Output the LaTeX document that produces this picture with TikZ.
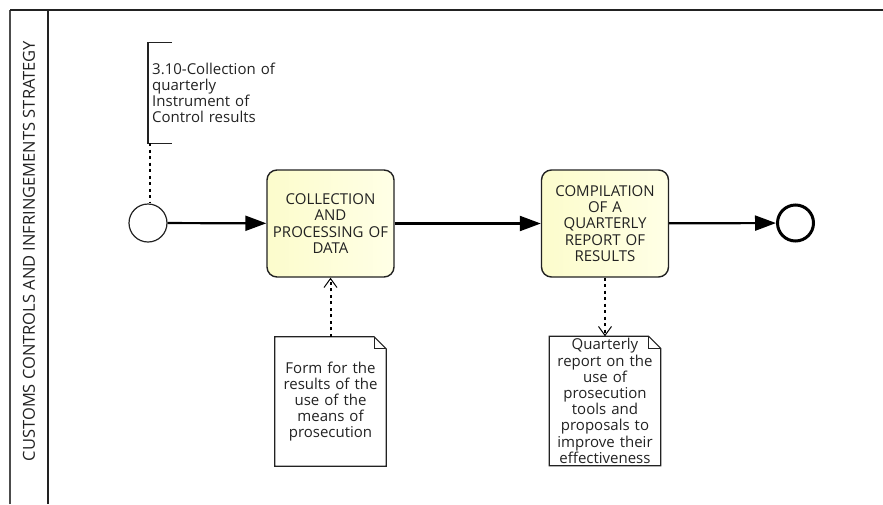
\documentclass[tikz,border=0pt]{standalone}
\usepackage{fontspec}
\setmainfont{Open Sans}
\usetikzlibrary{positioning,arrows.meta,calc}
\definecolor{lineink}{HTML}{222222}
\definecolor{taskfill}{HTML}{FCFCCC}
\definecolor{taskglow}{HTML}{FFFFE6}

\begin{document}
\begin{tikzpicture}[x=1pt,y=-1pt,
  font=\fontsize{15}{16.2}\selectfont, text=lineink,
  startev/.style={circle, draw=lineink, line width=1.2pt, minimum size=38pt, inner sep=0pt},
  endev/.style={circle, draw=black, line width=3pt, minimum size=36pt, inner sep=0pt},
  task/.style={draw=lineink, line width=1.4pt, rounded corners=10pt, minimum width=127pt, minimum height=107pt,
    left color=taskfill, right color=taskglow, align=center, text width=124pt, inner sep=1pt},
  dataobj/.style={minimum width=111pt, minimum height=129pt, align=center, text width=110pt, inner sep=0.5pt},
  seqflow/.style={line width=2.2pt, -{Triangle[length=21pt,width=15pt]}},
  assoc/.style={line width=2pt, dash pattern=on 3pt off 3.5pt},
  assocarrow/.style={assoc, -{Straight Barb[length=9pt,width=13pt,line width=1pt,sep=0pt]}}]
\useasboundingbox (0,0) rectangle (883,504);

% pool and lane
\draw[line width=1.2pt, draw=black!70] (10,504) -- (10,10);
\draw[line width=1.6pt, draw=lineink] (10,10) -- (883,10);
\draw[line width=1.6pt, draw=lineink] (48,10) -- (48,504);
\node[rotate=90, font=\fontsize{16.5}{18}\selectfont] (lane) at (29,251) {CUSTOMS CONTROLS AND INFRINGEMENTS STRATEGY};

% events and tasks
\node[startev] (start) at (148,223) {};
\node[task] (collect) at (330.5,223.5) {COLLECTION\\AND\\PROCESSING OF\\DATA};
\node[task] (compile) at (605,223.5) {COMPILATION\\OF A\\QUARTERLY\\REPORT OF\\RESULTS};
\node[endev] (stop) at (795.5,223) {};

\draw[seqflow] (start) -- (collect);
\draw[seqflow] (collect) -- (compile);
\draw[seqflow] (compile) -- (stop);

% text annotation on the start event
\node[anchor=west, minimum height=100pt, text width=140pt, align=left, inner sep=4pt] (note) at (148,93)
  {3.10-Collection of\\quarterly\\Instrument of\\Control results};
\draw[line width=1.2pt, draw=lineink] ($(note.north west)+(24,0)$) -- (note.north west) -- (note.south west) -- ++(24,0);
\draw[assoc] ($(note.south west)+(2,0)$) -- ($(start.north)+(2,0)$);

% data objects
\node[dataobj] (form) at (330.5,401.5) {Form for the\\results of the\\use of the\\means of\\prosecution};
\node[dataobj] (report) at (605,401) {Quarterly\\report on the\\use of\\prosecution\\tools and\\proposals to\\improve their\\effectiveness};
\foreach \d in {form,report} {
  \draw[line width=1.2pt, draw=lineink] ($(\d.north east)+(-12,0)$) -- (\d.north west) -- (\d.south west)
    -- (\d.south east) -- ($(\d.north east)+(0,12)$) -- cycle;
  \draw[line width=1.2pt, draw=lineink] ($(\d.north east)+(-12,0)$) -- ($(\d.north east)+(-12,12)$) -- ($(\d.north east)+(0,12)$);
}

\draw[assocarrow] (form.north) -- (collect.south);
\draw[assocarrow] (compile.south) -- (report.north);
\end{tikzpicture}
\end{document}
